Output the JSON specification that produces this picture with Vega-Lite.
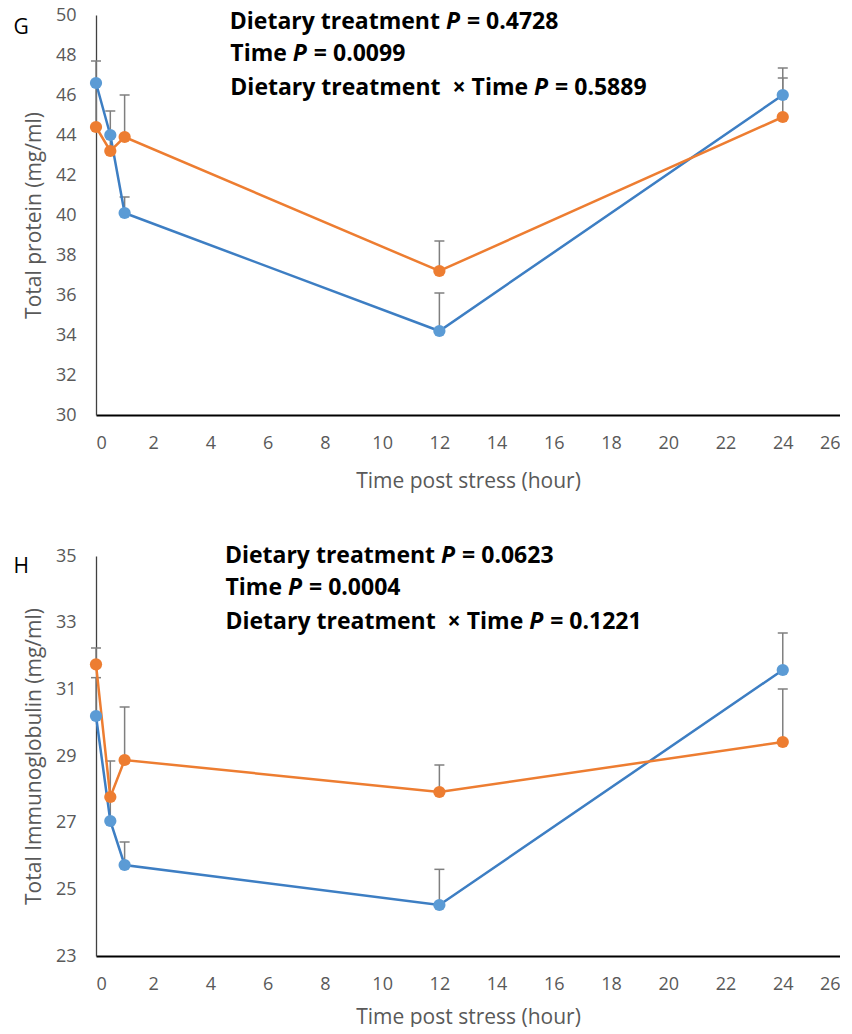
{
  "$schema": "https://vega.github.io/schema/vega-lite/v6.json",
  "padding": {"left": 13, "top": 6, "right": 0, "bottom": 0},
  "background": "white",
  "spacing": 54,
  "config": {
    "view": {"stroke": null},
    "font": "Open Sans",
    "title": {"font": "Open Sans", "fontSize": 21, "fontWeight": "normal", "color": "#000000", "anchor": "start", "frame": "bounds", "orient": "top", "baseline": "bottom", "offset": 4, "dx": -10, "dy": 36},
    "axis": {
      "grid": false,
      "ticks": false,
      "labelOverlap": false,
      "labelColor": "#595959",
      "titleColor": "#595959",
      "labelFont": "Open Sans",
      "titleFont": "Open Sans",
      "labelFontSize": 18,
      "titleFontSize": 21,
      "titleFontWeight": "normal"
    },
    "axisX": {"domainColor": "#000000", "domainWidth": 2, "labelPadding": 19},
    "axisY": {"domainColor": "#404040", "domainWidth": 1.3, "labelPadding": 20, "titlePadding": 11}
  },
  "datasets": {
    "protein": [
      {"hour": 0, "diet": "A", "mean": 46.6, "upper": 47.7},
      {"hour": 0.5, "diet": "A", "mean": 44.0, "upper": 45.2},
      {"hour": 1, "diet": "A", "mean": 40.1, "upper": 40.9},
      {"hour": 12, "diet": "A", "mean": 34.2, "upper": 36.1},
      {"hour": 24, "diet": "A", "mean": 46.0, "upper": 47.35},
      {"hour": 0, "diet": "B", "mean": 44.4, "upper": 46.5},
      {"hour": 0.5, "diet": "B", "mean": 43.2, "upper": 43.9},
      {"hour": 1, "diet": "B", "mean": 43.9, "upper": 46.0},
      {"hour": 12, "diet": "B", "mean": 37.2, "upper": 38.7},
      {"hour": 24, "diet": "B", "mean": 44.9, "upper": 46.85}
    ],
    "immunoglobulin": [
      {"hour": 0, "diet": "A", "mean": 30.2, "upper": 31.35},
      {"hour": 0.5, "diet": "A", "mean": 27.05, "upper": 27.8},
      {"hour": 1, "diet": "A", "mean": 25.73, "upper": 26.42},
      {"hour": 12, "diet": "A", "mean": 24.53, "upper": 25.6},
      {"hour": 24, "diet": "A", "mean": 31.58, "upper": 32.69},
      {"hour": 0, "diet": "B", "mean": 31.75, "upper": 32.24},
      {"hour": 0.5, "diet": "B", "mean": 27.77, "upper": 28.85},
      {"hour": 1, "diet": "B", "mean": 28.88, "upper": 30.47},
      {"hour": 12, "diet": "B", "mean": 27.92, "upper": 28.73},
      {"hour": 24, "diet": "B", "mean": 29.42, "upper": 31.01}
    ],
    "statsProtein": [
      {"hour": 12.23, "level": 49.65, "pre": "Dietary treatment", "post": "= 0.4728"},
      {"hour": 6.88, "level": 48.05, "pre": "Time", "post": "= 0.0099"},
      {"hour": 15.31, "level": 46.36, "pre": "Dietary treatment \u00a0\u00d7 Time", "post": "= 0.5889"}
    ],
    "statsImmunoglobulin": [
      {"hour": 12.06, "level": 35.0, "pre": "Dietary treatment", "post": "= 0.0623"},
      {"hour": 6.71, "level": 34.04, "pre": "Time", "post": "= 0.0004"},
      {"hour": 15.14, "level": 33.02, "pre": "Dietary treatment \u00a0\u00d7 Time", "post": "= 0.1221"}
    ]
  },
  "vconcat": [
    {
      "title": {"text": "G"},
      "width": 744,
      "height": 400,
      "data": {"name": "protein"},
      "encoding": {
        "x": {
          "field": "hour",
          "type": "quantitative",
          "scale": {"domain": [0, 26], "nice": false, "zero": false},
          "axis": {"values": [0, 2, 4, 6, 8, 10, 12, 14, 16, 18, 20, 22, 24, 26], "labelOverlap": false, "titlePadding": 18, "title": "Time post stress (hour)"}
        }
      },
      "layer": [
        {
          "mark": {"type": "rule", "color": "#7f7f7f", "strokeWidth": 1.5},
          "encoding": {
            "y": {"field": "mean", "type": "quantitative", "scale": {"domain": [30, 50], "nice": false, "zero": false},
                  "axis": {"values": [30, 32, 34, 36, 38, 40, 42, 44, 46, 48, 50], "labelOverlap": false, "title": "Total protein (mg/ml)"}},
            "y2": {"field": "upper"}
          }
        },
        {
          "mark": {"type": "tick", "orient": "horizontal", "color": "#7f7f7f", "thickness": 1.5, "size": 10, "opacity": 1},
          "encoding": {"y": {"field": "upper", "type": "quantitative",
                  "axis": {"values": [30, 32, 34, 36, 38, 40, 42, 44, 46, 48, 50], "labelOverlap": false, "title": "Total protein (mg/ml)"}}}
        },
        {
          "mark": {"type": "line", "strokeWidth": 2.5},
          "encoding": {
            "y": {"field": "mean", "type": "quantitative",
                  "axis": {"values": [30, 32, 34, 36, 38, 40, 42, 44, 46, 48, 50], "labelOverlap": false, "title": "Total protein (mg/ml)"}},
            "stroke": {"field": "diet", "type": "nominal", "scale": {"domain": ["A", "B"], "range": ["#3d7ec3", "#ED7D31"]}, "legend": null}
          }
        },
        {
          "mark": {"type": "circle", "size": 150, "opacity": 1},
          "encoding": {
            "y": {"field": "mean", "type": "quantitative",
                  "axis": {"values": [30, 32, 34, 36, 38, 40, 42, 44, 46, 48, 50], "labelOverlap": false, "title": "Total protein (mg/ml)"}},
            "fill": {"field": "diet", "type": "nominal", "scale": {"domain": ["A", "B"], "range": ["#5B9BD5", "#ED7D31"]}, "legend": null}
          }
        },
        {
          "data": {"name": "statsProtein"},
          "mark": {"type": "text", "align": "right", "baseline": "middle", "dx": -6, "fontSize": 23, "fontWeight": "bold", "color": "#000000"},
          "encoding": {"y": {"field": "level", "type": "quantitative",
                  "axis": {"values": [30, 32, 34, 36, 38, 40, 42, 44, 46, 48, 50], "labelOverlap": false, "title": "Total protein (mg/ml)"}}, "text": {"field": "pre"}}
        },
        {
          "data": {"name": "statsProtein"},
          "mark": {"type": "text", "align": "left", "baseline": "middle", "fontSize": 23, "fontWeight": "bold", "fontStyle": "italic", "color": "#000000"},
          "encoding": {"y": {"field": "level", "type": "quantitative",
                  "axis": {"values": [30, 32, 34, 36, 38, 40, 42, 44, 46, 48, 50], "labelOverlap": false, "title": "Total protein (mg/ml)"}}, "text": {"value": "P"}}
        },
        {
          "data": {"name": "statsProtein"},
          "mark": {"type": "text", "align": "left", "baseline": "middle", "dx": 21, "fontSize": 23, "fontWeight": "bold", "color": "#000000"},
          "encoding": {"y": {"field": "level", "type": "quantitative",
                  "axis": {"values": [30, 32, 34, 36, 38, 40, 42, 44, 46, 48, 50], "labelOverlap": false, "title": "Total protein (mg/ml)"}}, "text": {"field": "post"}}
        }
      ]
    },
    {
      "title": {"text": "H"},
      "width": 744,
      "height": 400,
      "data": {"name": "immunoglobulin"},
      "encoding": {
        "x": {
          "field": "hour",
          "type": "quantitative",
          "scale": {"domain": [0, 26], "nice": false, "zero": false},
          "axis": {"values": [0, 2, 4, 6, 8, 10, 12, 14, 16, 18, 20, 22, 24, 26], "labelOverlap": false, "titlePadding": 13, "title": "Time post stress (hour)"}
        }
      },
      "layer": [
        {
          "mark": {"type": "rule", "color": "#7f7f7f", "strokeWidth": 1.5},
          "encoding": {
            "y": {"field": "mean", "type": "quantitative", "scale": {"domain": [23, 35], "nice": false, "zero": false},
                  "axis": {"values": [23, 25, 27, 29, 31, 33, 35], "labelOverlap": false, "title": "Total Immunoglobulin (mg/ml)"}},
            "y2": {"field": "upper"}
          }
        },
        {
          "mark": {"type": "tick", "orient": "horizontal", "color": "#7f7f7f", "thickness": 1.5, "size": 10, "opacity": 1},
          "encoding": {"y": {"field": "upper", "type": "quantitative",
                  "axis": {"values": [23, 25, 27, 29, 31, 33, 35], "labelOverlap": false, "title": "Total Immunoglobulin (mg/ml)"}}}
        },
        {
          "mark": {"type": "line", "strokeWidth": 2.5},
          "encoding": {
            "y": {"field": "mean", "type": "quantitative",
                  "axis": {"values": [23, 25, 27, 29, 31, 33, 35], "labelOverlap": false, "title": "Total Immunoglobulin (mg/ml)"}},
            "stroke": {"field": "diet", "type": "nominal", "scale": {"domain": ["A", "B"], "range": ["#3d7ec3", "#ED7D31"]}, "legend": null}
          }
        },
        {
          "mark": {"type": "circle", "size": 150, "opacity": 1},
          "encoding": {
            "y": {"field": "mean", "type": "quantitative",
                  "axis": {"values": [23, 25, 27, 29, 31, 33, 35], "labelOverlap": false, "title": "Total Immunoglobulin (mg/ml)"}},
            "fill": {"field": "diet", "type": "nominal", "scale": {"domain": ["A", "B"], "range": ["#5B9BD5", "#ED7D31"]}, "legend": null}
          }
        },
        {
          "data": {"name": "statsImmunoglobulin"},
          "mark": {"type": "text", "align": "right", "baseline": "middle", "dx": -6, "fontSize": 23, "fontWeight": "bold", "color": "#000000"},
          "encoding": {"y": {"field": "level", "type": "quantitative",
                  "axis": {"values": [23, 25, 27, 29, 31, 33, 35], "labelOverlap": false, "title": "Total Immunoglobulin (mg/ml)"}}, "text": {"field": "pre"}}
        },
        {
          "data": {"name": "statsImmunoglobulin"},
          "mark": {"type": "text", "align": "left", "baseline": "middle", "fontSize": 23, "fontWeight": "bold", "fontStyle": "italic", "color": "#000000"},
          "encoding": {"y": {"field": "level", "type": "quantitative",
                  "axis": {"values": [23, 25, 27, 29, 31, 33, 35], "labelOverlap": false, "title": "Total Immunoglobulin (mg/ml)"}}, "text": {"value": "P"}}
        },
        {
          "data": {"name": "statsImmunoglobulin"},
          "mark": {"type": "text", "align": "left", "baseline": "middle", "dx": 21, "fontSize": 23, "fontWeight": "bold", "color": "#000000"},
          "encoding": {"y": {"field": "level", "type": "quantitative",
                  "axis": {"values": [23, 25, 27, 29, 31, 33, 35], "labelOverlap": false, "title": "Total Immunoglobulin (mg/ml)"}}, "text": {"field": "post"}}
        }
      ]
    }
  ]
}
